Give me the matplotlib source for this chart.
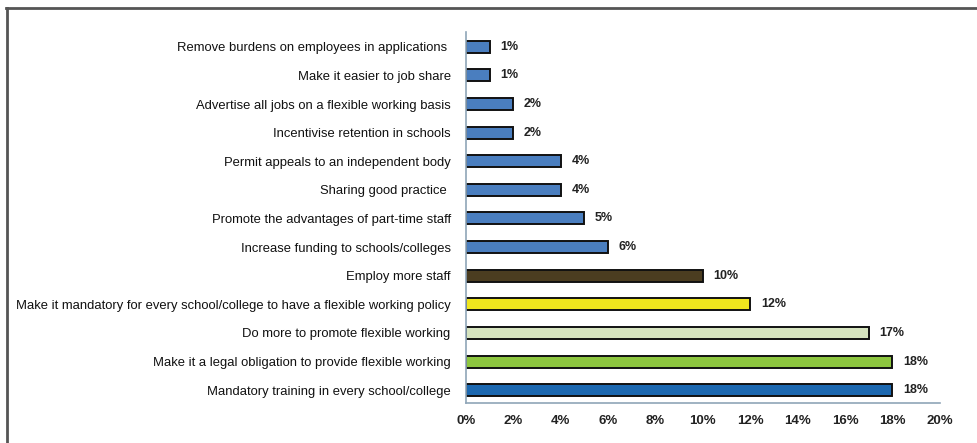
import matplotlib.pyplot as plt
from matplotlib.lines import Line2D

plt.rcParams['font.family'] = ['Liberation Sans', 'DejaVu Sans']

# bottom to top
options = [
    "Mandatory training in every school/college",
    "Make it a legal obligation to provide flexible working",
    "Do more to promote flexible working",
    "Make it mandatory for every school/college to have a flexible working policy",
    "Employ more staff",
    "Increase funding to schools/colleges",
    "Promote the advantages of part-time staff",
    "Sharing good practice ",
    "Permit appeals to an independent body",
    "Incentivise retention in schools",
    "Advertise all jobs on a flexible working basis",
    "Make it easier to job share",
    "Remove burdens on employees in applications ",
]
shares = [18, 18, 17, 12, 10, 6, 5, 4, 4, 2, 2, 1, 1]
colours = ["#1c68b0", "#8dc63f", "#d6e4bf", "#f0e61e", "#4b3d20",
           "#4a7ebf", "#4a7ebf", "#4a7ebf", "#4a7ebf", "#4a7ebf",
           "#4a7ebf", "#4a7ebf", "#4a7ebf"]
x_ticks = [0, 2, 4, 6, 8, 10, 12, 14, 16, 18, 20]

fig = plt.figure(figsize=(9.78, 4.43), dpi=100)
ax = fig.add_axes([0.4765, 0.0903, 0.4845, 0.8375])

pos = list(range(len(options)))
ax.barh(pos, shares, height=0.42, color=colours, edgecolor="#111111", linewidth=1.4)

for p, v in zip(pos, shares):
    ax.text(v + 0.45, p, f"{v}%", va="center", ha="left", fontsize=9,
            fontweight="bold", color="#222222")

ax.set_xlim(0, 20)
ax.set_ylim(-0.45, 12.52)
ax.set_yticks(pos)
ax.set_yticklabels(options, fontsize=9.35, color="#111111")
ax.set_xticks(x_ticks)
ax.set_xticklabels([f"{t}%" for t in x_ticks], fontsize=9.5, fontweight="bold",
                   color="#222222")
ax.tick_params(axis="y", length=0, pad=11)
ax.tick_params(axis="x", length=0, pad=9)

for side in ["top", "right"]:
    ax.spines[side].set_visible(False)
for side in ["left", "bottom"]:
    ax.spines[side].set_color("#8fa5b8")
    ax.spines[side].set_linewidth(1.2)

# outer frame, top and left edges only
fig.add_artist(Line2D([6 / 978, 1.0], [1 - 7.5 / 443, 1 - 7.5 / 443],
                      transform=fig.transFigure, color="#555555", linewidth=2))
fig.add_artist(Line2D([7 / 978, 7 / 978], [0.0, 1 - 7.5 / 443],
                      transform=fig.transFigure, color="#555555", linewidth=2))

fig.savefig("out.png", dpi=100)
